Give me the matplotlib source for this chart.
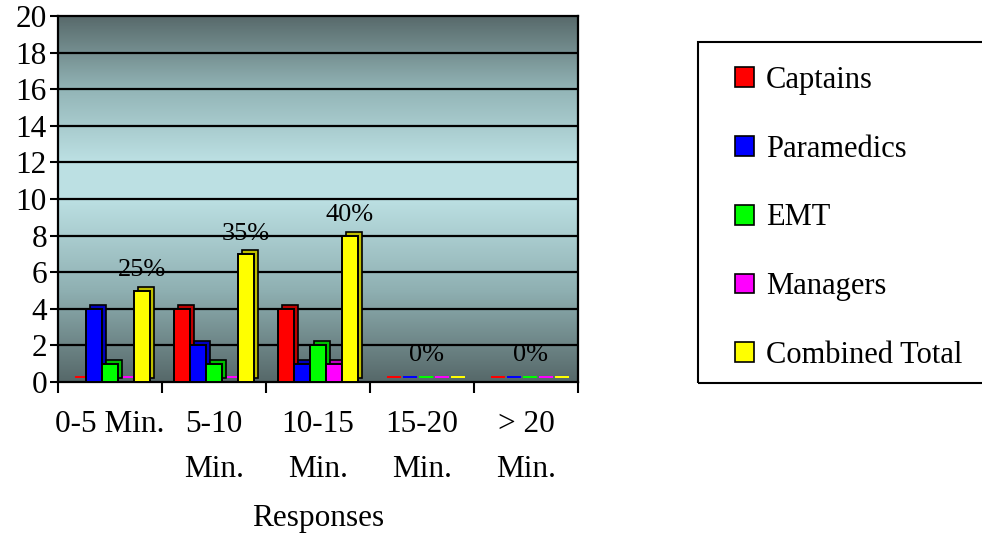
import matplotlib
matplotlib.use("Agg")
import matplotlib.pyplot as plt
import matplotlib.transforms as mtransforms
from matplotlib.colors import LinearSegmentedColormap, to_rgb
from matplotlib.patches import Patch, Rectangle
import numpy as np

plt.rcParams['font.family'] = ['Liberation Serif', 'DejaVu Serif']

categories = ["0-5 Min.", "5-10\nMin.", "10-15\nMin.", "15-20\nMin.", "> 20\nMin."]
series_names = ["Captains", "Paramedics", "EMT", "Managers", "Combined Total"]
captains = [0, 4, 4, 0, 0]
paramedics = [4, 2, 1, 0, 0]
emt = [1, 1, 2, 0, 0]
managers = [0, 0, 1, 0, 0]
combined = [5, 7, 8, 0, 0]
pct_labels = ["25%", "35%", "40%", "0%", "0%"]
colors = ["#ff0000", "#0000ff", "#00ff00", "#ff00ff", "#ffff00"]
yticks = list(range(0, 21, 2))

series = [captains, paramedics, emt, managers, combined]

W, H = 982, 536
fig = plt.figure(figsize=(W / 100, H / 100), dpi=100)
ax = fig.add_axes([58 / W, (H - 382) / H, (578 - 58) / W, (382 - 16) / H])
ax.set_xlim(-0.5, 4.5)
ax.set_ylim(0, 20)

# gradient background
cmap = LinearSegmentedColormap.from_list(
    "bg", [(0.0, "#566869"), (0.25, "#8fb0b2"), (0.5, "#bce0e3"),
           (0.6, "#bde1e4"), (0.8, "#93b5b7"), (1.0, "#586a6b")])
grad = np.linspace(0, 1, 256).reshape(-1, 1)
ax.imshow(grad, aspect="auto", cmap=cmap, origin="lower",
          extent=(-0.5, 4.5, 0, 20), zorder=0)

for y in yticks[1:-1]:
    ax.axhline(y, color="black", lw=1.6, zorder=1)

x = np.arange(len(categories))
bw = 0.154
off = mtransforms.offset_copy(ax.transData, fig=fig, x=4, y=4, units="dots")

def darker(c, f=0.75):
    r, g, b = to_rgb(c)
    return (r * f, g * f, b * f)

for i, (vals, col) in enumerate(zip(series, colors)):
    xs = x + (i - 2) * bw
    for xi, v in zip(xs, vals):
        if v > 0:
            ax.bar(xi, v, bw, bottom=0, color=darker(col), edgecolor="black",
                   lw=1.2, zorder=3, transform=off)
            ax.bar(xi, v, bw, color=col, edgecolor="black", lw=1.4, zorder=4)
        else:
            ax.bar(xi, 0.12, bw * 0.9, color=col, edgecolor="none", zorder=4,
                   transform=off)

for xi, lab, v in zip(x, pct_labels, combined):
    if v > 0:
        ax.text(xi + 2 * bw, v + 0.5, lab, ha="center", va="bottom",
                fontsize=19, zorder=5)
    else:
        ax.text(xi + 0.04, 0.9, lab, ha="center", va="bottom",
                fontsize=19, zorder=5)

ax.set_yticks(yticks)
ax.set_yticklabels([str(t) for t in yticks], fontsize=22.5)
ax.set_xticks(x)
ax.set_xticklabels(categories, fontsize=22.5, linespacing=1.72, va="top")
ax.set_xticks(np.arange(-0.5, 5, 1), minor=True)
ax.tick_params(axis="x", which="major", length=0, pad=20)
ax.tick_params(axis="x", which="minor", length=8, width=1.5, direction="out")
ax.tick_params(axis="y", length=6, width=1.5, pad=2)
for s in ax.spines.values():
    s.set_linewidth(1.6)
ax.set_xlabel("Responses", fontsize=22.5, labelpad=15)

# legend
fig.patches.append(Rectangle((698 / W, (H - 383) / H), (1000 - 698) / W,
                             (383 - 42) / H, transform=fig.transFigure,
                             fill=False, edgecolor="black", lw=1.5))
handles = [Patch(facecolor=c, edgecolor="black", lw=1.2) for c in colors]
fig.legend(handles, series_names, loc="upper left",
           bbox_to_anchor=(735 / W, (H - 66) / H), frameon=False,
           fontsize=22, handlelength=0.62, handleheight=0.62,
           handletextpad=0.4, labelspacing=1.3, borderpad=0,
           borderaxespad=0)

fig.savefig("out.png", dpi=100)
